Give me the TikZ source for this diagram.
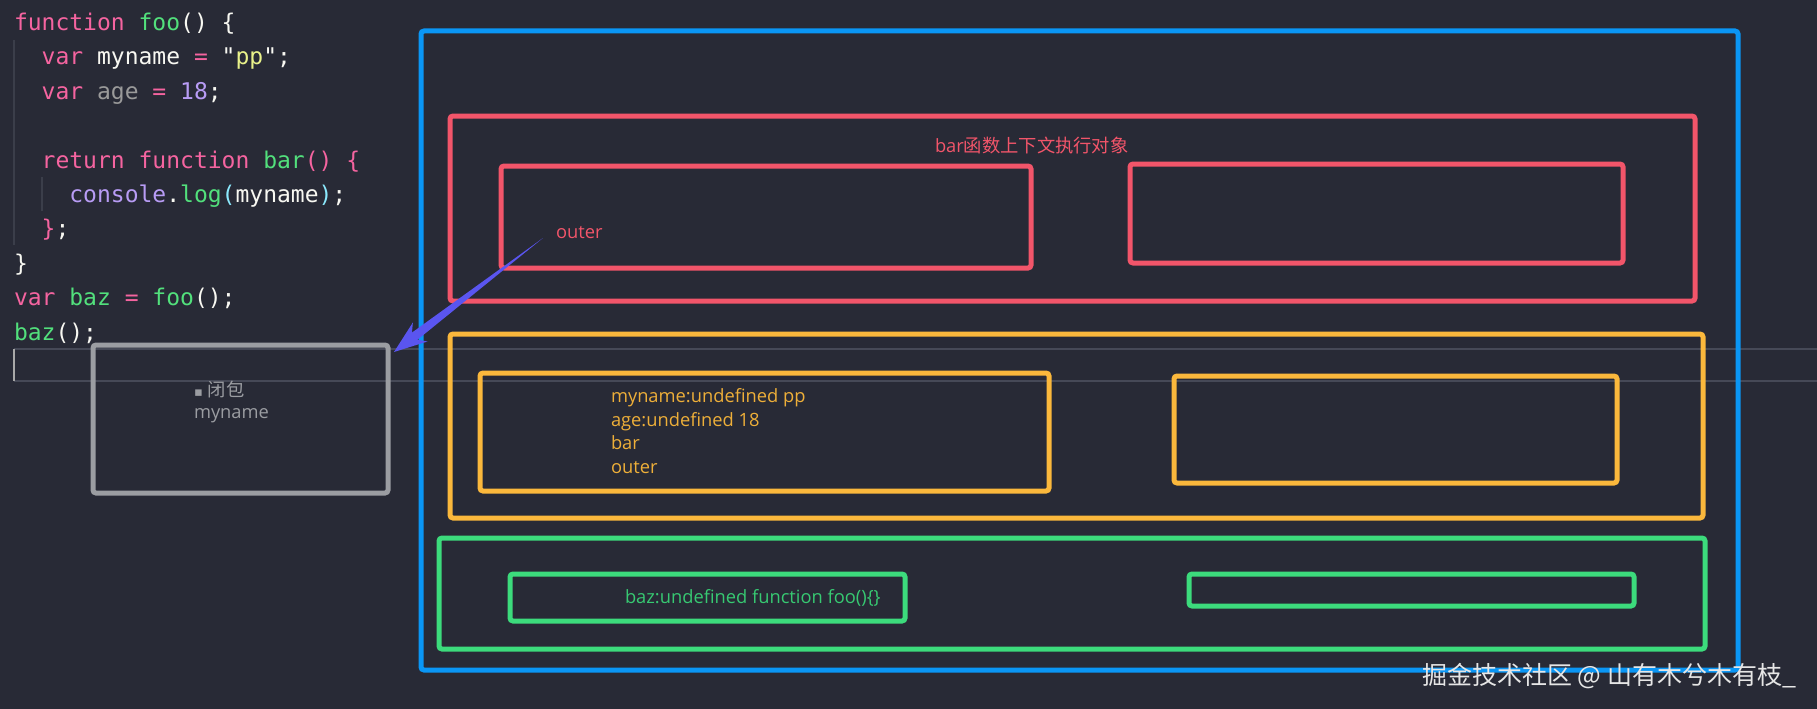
\documentclass[tikz,border=0pt]{standalone}
\usepackage{fontspec}
\setmainfont{Open Sans}
\setmonofont{DejaVu Sans Mono}
\newfontfamily\cjk{Noto Sans CJK SC}
\newfontfamily\symfont{DejaVu Sans}
\usepackage{tikz}
\usetikzlibrary{fit,calc}
\definecolor{editorbg}{HTML}{282A36}
\definecolor{editline}{HTML}{464957}
\definecolor{indentguide}{HTML}{3B3E4A}
\definecolor{cursorgray}{HTML}{A8A8A8}
\definecolor{codewhite}{HTML}{F8F8F2}
\definecolor{codepink}{HTML}{F564A0}
\definecolor{codegreen}{HTML}{52E07C}
\definecolor{codeyellow}{HTML}{E9F28A}
\definecolor{codepurple}{HTML}{B89CF5}
\definecolor{codegray}{HTML}{9A9A9A}
\definecolor{codecyan}{HTML}{8BE9FD}
\definecolor{boxblue}{HTML}{0A96F5}
\definecolor{boxred}{HTML}{F2556A}
\definecolor{boxyellow}{HTML}{FBB83C}
\definecolor{boxgreen}{HTML}{3CDB7C}
\definecolor{boxgray}{HTML}{9B9DA2}
\definecolor{arrowblue}{HTML}{5A55F0}
\definecolor{markwhite}{HTML}{E6E6E6}
\newcommand*\boxline{5pt}
\newcommand*\boxround{3pt}
\newcommand*\notesize{\fontsize{18.3}{22}\selectfont}
\newcommand*\codesize{\ttfamily\fontsize{23}{28}\selectfont}
\newcommand*\kw[1]{\textcolor{codepink}{#1}}
\newcommand*\fn[1]{\textcolor{codegreen}{#1}}
\newcommand*\nm[1]{\textcolor{codepurple}{#1}}
\newcommand*\st[1]{\textcolor{codeyellow}{#1}}
\newcommand*\pa[1]{\textcolor{codecyan}{#1}}
\newcommand*\unused[1]{\textcolor{codegray}{#1}}
\tikzset{
    panel/.style      = {draw, rounded corners=\boxround, line width=\boxline,
                        inner sep=0pt, outer sep=0pt},
    bluebox/.style    = {panel, draw=boxblue},
    redbox/.style     = {panel, draw=boxred},
    yellowbox/.style  = {panel, draw=boxyellow},
    greenbox/.style   = {panel, draw=boxgreen},
    graybox/.style    = {panel, draw=boxgray},
    note/.style       = {inner sep=0pt, outer sep=0pt, anchor=base west, font=\notesize},
    rednote/.style    = {note, text=boxred},
    yellownote/.style = {note, text=boxyellow!95!black},
    greennote/.style  = {note, text=boxgreen!92!black},
    graynote/.style   = {note, text=boxgray},
    codeline/.style   = {inner sep=0pt, outer sep=0pt, anchor=base west,
                        font=\codesize, text=codewhite},
    editorline/.style = {draw=editline, line width=2pt},
    guideline/.style  = {draw=indentguide, line width=1.5pt},
    cursorline/.style = {draw=cursorgray, line width=2pt},
    arrowfill/.style  = {fill=arrowblue},
    watermark/.style  = {inner sep=0pt, anchor=base west, text=markwhite,
                        font=\cjk\fontsize{25}{30}\selectfont},
  }
\begin{document}
\begin{tikzpicture}[x=1pt,y=-1pt]
      % canvas
      \fill[editorbg] (0,0) rectangle (1817,709);
      \useasboundingbox (0,0) rectangle (1817,709);

      % editor: current line and indent guides
      \draw[editorline] (14,349) -- (1817,349);
      \draw[editorline] (14,381) -- (1817,381);
      \draw[guideline] (14,40) -- (14,245);
      \draw[guideline] (42,177) -- (42,211);
      \draw[cursorline] (14,349) -- (14,381);

      % source code, one node per line
      \foreach \row/\ind/\src in {
          0/0/{\kw{function} \fn{foo}() \{},
          1/2/{\kw{var} myname \kw{=} "\st{pp}";},
          2/2/{\kw{var} \unused{age} \kw{=} \nm{18};},
          4/2/{\kw{return} \kw{function} \fn{bar}\kw{() \{}},
          5/4/{\nm{console}.\fn{log}\pa{(}myname\pa{)};},
          6/2/{\kw{\}};},
          7/0/{\}},
          8/0/{\kw{var} \fn{baz} \kw{=} \fn{foo}();},
          9/0/{\fn{baz}();}} {
        \node[codeline] (code\row) at (14+13.85*\ind, 30.5+34.4*\row) {\src};
      }

      % execution context stack
      \node[bluebox, fit={(421,31) (1738,670)}] (stack) {};

      % bar context
      \node[redbox, fit={(450,116) (1695,301)}] (barctx) {};
      \node[redbox, fit={(501,166) (1031,268)}] (barscope) {};
      \node[redbox, fit={(1130,164) (1623,263)}] (barvars) {};
      \node[rednote] (bartitle) at ([shift={(485,36)}]barctx.north west)
           {bar{\cjk 函数上下文执行对象}};
      \node[rednote] (outerlabel) at ([shift={(55,72)}]barscope.north west) {outer};

      % foo context
      \node[yellowbox, fit={(450,334) (1703,518)}] (fooctx) {};
      \node[yellowbox, fit={(480,373) (1049,491)}] (fooscope) {};
      \node[yellowbox, fit={(1174,376) (1617,483)}] (foovars) {};
      \foreach \t [count=\i from 0] in {myname:undefined pp, age:undefined 18, bar, outer} {
        \node[yellownote] (foovar\i) at ([shift={(131,29.5+23.5*\i)}]fooscope.north west) {\t};
      }

      % global context
      \node[greenbox, fit={(439,538) (1705,649)}] (globalctx) {};
      \node[greenbox, fit={(510,574) (905,621)}] (globalscope) {};
      \node[greenbox, fit={(1189,574) (1634,606)}] (globalvars) {};
      \node[greennote] (bazlabel) at ([shift={(115,29)}]globalscope.north west)
           {baz:undefined function foo()\{\}};

      % closure
      \node[graybox, fit={(93,345) (388,493)}] (closure) {};
      \node[graynote] (closuretitle) at ([shift={(101,51)}]closure.north west)
           {{\symfont\fontsize{13}{13}\selectfont ▪}\hspace{5pt}{\cjk 闭包}};
      \node[graynote] (closurevar) at ([shift={(0,22.5)}]closuretitle.base west) {myname};

      % arrow from outer to the closure
      \coordinate (arrowstart) at ([shift={(-13,0)}]outerlabel.base west);
      \coordinate (arrowtip) at ([shift={(6,7)}]closure.north east);
      \coordinate (neck) at ($(arrowtip)!26pt!(arrowstart)$);
      \coordinate (barb) at ($(arrowtip)!33pt!(arrowstart)$);
      \fill[arrowfill] (arrowstart) -- ($(neck)!4.5pt!90:(arrowtip)$)
           -- ($(barb)!12pt!90:(arrowtip)$) -- (arrowtip)
           -- ($(barb)!12pt!-90:(arrowtip)$) -- ($(neck)!4.5pt!-90:(arrowtip)$) -- cycle;

      % credit
      \node[watermark] (credit) at (1422,684) {掘金技术社区 @ 山有木兮木有枝\_};
    \end{tikzpicture}
\end{document}
